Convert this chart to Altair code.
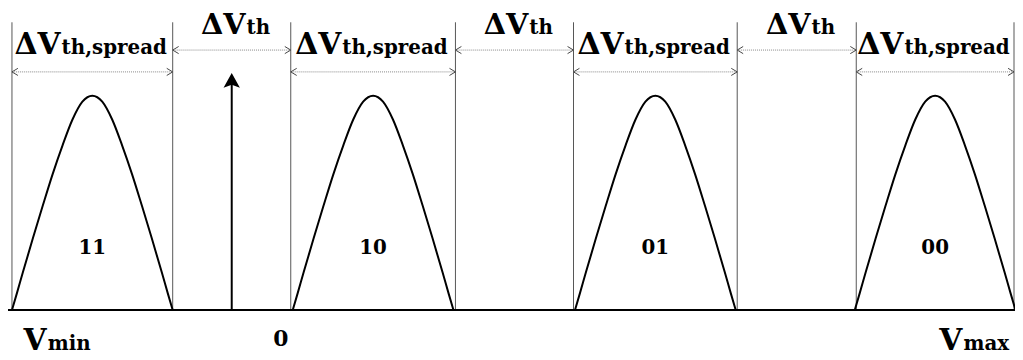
import altair as alt
import pandas as pd

# threshold-voltage windows (V units along the axis)
window_edges = [12, 174, 293, 459, 578, 743, 863, 1022]
state_labels = ["11", "10", "01", "00"]
# distribution shape (offset from window centre, height)
profile_offset = [-81, -76, -70, -60, -50, -40, -30, -20, -10, 0, 10, 20, 30, 40, 50, 60, 70, 76, 81]
profile_height = [0, 17, 38, 72, 105, 137, 166, 192, 210, 216, 210, 192, 166, 137, 105, 72, 38, 17, 0]

axis_min, axis_max = 8, 1023
read_voltage = 233.5
zero_label_x = 283
line_top = 290
spread_arrow_y = 240
gap_arrow_y = 262
peak_label_y = 56

FONT = "DejaVu Serif"

windows = [(window_edges[i], window_edges[i + 1]) for i in range(0, len(window_edges) - 1, 2)]
gaps = [(window_edges[i], window_edges[i + 1]) for i in range(1, len(window_edges) - 1, 2)]
centers = [(a + b) / 2 for a, b in windows]

curve_rows = []
for s, c in zip(state_labels, centers):
    for o, h in zip(profile_offset, profile_height):
        curve_rows.append({"state": s, "x": c + o, "y": h})
curves_df = pd.DataFrame(curve_rows)

xs = alt.Scale(domain=[axis_min, axis_max])
ys = alt.Scale(domain=[-49, 303])
X = lambda f: alt.X(f, type="quantitative", scale=xs, axis=None)
Y = lambda f: alt.Y(f, type="quantitative", scale=ys, axis=None)

base_df = pd.DataFrame({"x": [axis_min], "x2": [axis_max], "y": [0]})
baseline = alt.Chart(base_df).mark_rule(color="black", strokeWidth=2).encode(
    x=X("x"), x2="x2", y=Y("y"))

vlines_df = pd.DataFrame({"x": window_edges, "y": [0] * len(window_edges), "y2": [line_top] * len(window_edges)})
vlines = alt.Chart(vlines_df).mark_rule(color="#555555", strokeWidth=1).encode(
    x=X("x"), y=Y("y"), y2="y2")

curves = alt.Chart(curves_df).mark_line(color="black", strokeWidth=2, interpolate="monotone").encode(
    x=X("x"), y=Y("y"), detail="state:N")

seg_rows = [{"x": a, "x2": b, "y": spread_arrow_y} for a, b in windows] + \
           [{"x": a, "x2": b, "y": gap_arrow_y} for a, b in gaps]
seg_df = pd.DataFrame(seg_rows)
arrows = alt.Chart(seg_df).mark_rule(color="#888888", strokeWidth=1, strokeDash=[1, 1]).encode(
    x=X("x"), x2="x2", y=Y("y"))
left_heads = alt.Chart(seg_df).mark_point(
    shape="M1,-0.6 L0,0 L1,0.6", size=144, filled=False, color="#444444", strokeWidth=1, opacity=1
).encode(x=X("x"), y=Y("y"))
right_heads = alt.Chart(seg_df).mark_point(
    shape="M-1,-0.6 L0,0 L-1,0.6", size=144, filled=False, color="#444444", strokeWidth=1, opacity=1
).encode(x=X("x2"), y=Y("y"))

read_df = pd.DataFrame({"x": [read_voltage], "y": [0], "y2": [228], "tip": [239]})
read_line = alt.Chart(read_df).mark_rule(color="black", strokeWidth=2).encode(
    x=X("x"), y=Y("y"), y2="y2")
read_head = alt.Chart(read_df).mark_point(
    shape="M0,0 L0.55,1 L0,0.8 L-0.55,1 Z", size=900, filled=True, color="black", opacity=1, strokeWidth=0
).encode(x=X("x"), y=Y("tip"))

main_rows = [{"t": "ΔV", "x": c - 32, "y": 258, "s": 30} for c in centers] + \
            [{"t": "ΔV", "x": (a + b) / 2 + 14, "y": 278, "s": 29} for a, b in gaps] + \
            [{"t": "V", "x": 47, "y": -40, "s": 30}, {"t": "V", "x": 970, "y": -40, "s": 30}]
sub_rows = [{"t": "th,spread", "x": c - 32, "y": 258} for c in centers] + \
           [{"t": "th", "x": (a + b) / 2 + 14, "y": 278} for a, b in gaps] + \
           [{"t": "min", "x": 47, "y": -40}, {"t": "max", "x": 970, "y": -40}]
mid_rows = [{"t": s, "x": c, "y": peak_label_y} for s, c in zip(state_labels, centers)]
zero_rows = [{"t": "0", "x": zero_label_x, "y": -36}]

main_txt = alt.Chart(pd.DataFrame(main_rows)).mark_text(
    font=FONT, fontWeight="bold", align="right", baseline="alphabetic", color="black"
).encode(x=X("x"), y=Y("y"), text="t:N", size=alt.Size("s:Q", scale=None, legend=None))
sub_txt = alt.Chart(pd.DataFrame(sub_rows)).mark_text(
    font=FONT, fontWeight="bold", fontSize=20, align="left", baseline="alphabetic", color="black", dx=1
).encode(x=X("x"), y=Y("y"), text="t:N")
mid_txt = alt.Chart(pd.DataFrame(mid_rows)).mark_text(
    font=FONT, fontWeight="bold", fontSize=20, align="center", baseline="alphabetic", color="black"
).encode(x=X("x"), y=Y("y"), text="t:N")
zero_txt = alt.Chart(pd.DataFrame(zero_rows)).mark_text(
    font=FONT, fontWeight="bold", fontSize=22, align="center", baseline="alphabetic", color="black"
).encode(x=X("x"), y=Y("y"), text="t:N")

chart = alt.layer(
    vlines, arrows, left_heads, right_heads, curves, baseline, read_line, read_head,
    main_txt, sub_txt, mid_txt, zero_txt
).properties(
    width=1015, height=352, padding=0, autosize=alt.AutoSizeParams(type="none"), background="white"
).configure_view(stroke=None)

chart.save("out.html", embed_options={"renderer": "svg", "actions": False})
